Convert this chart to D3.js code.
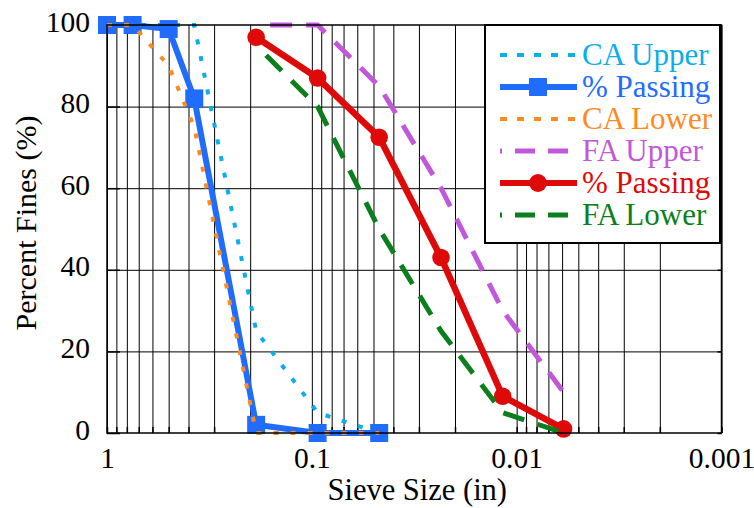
<!DOCTYPE html>
<html>
<head>
<meta charset="utf-8">
<script src="https://cdn.jsdelivr.net/npm/d3@7"></script>
<style>
  html, body { margin: 0; padding: 0; background: #fff; }
  svg text { font-family: "Liberation Serif", "Times New Roman", Times, serif; }
</style>
</head>
<body>
<svg id="chart"></svg>
<script>
// sieve openings (in)
const caSieves = [1, 0.75, 0.5, 0.375, 0.187, 0.0937, 0.0469];
const faSieves = [0.187, 0.0937, 0.0469, 0.0234, 0.0117, 0.0059];

// coarse aggregate, % passing
const caUpper = [100, 100, 100, 100, 25, 5, 0];
const caPassing = [100, 100, 99, 82, 2, 0, 0];
const caLower = [100, 100, 90, 75, 0, 0, 0];

// fine aggregate, % passing
const faUpper = [100, 100, 85, 60, 30, 10];
const faPassing = [97, 87, 72.5, 43, 9, 1];
const faLower = [95, 80, 50, 25, 5, 0];

const xTickValues = [1, 0.1, 0.01, 0.001];
const yTickValues = [0, 20, 40, 60, 80, 100];

const margin = { top: 25, right: 32.5, bottom: 75, left: 107 };
const width = 754 - margin.left - margin.right;
const height = 508 - margin.top - margin.bottom;

const svg = d3.select('#chart')
  .attr('width', 754)
  .attr('height', 508);

const g = svg.append('g')
  .attr('transform', `translate(${margin.left},${margin.top})`);

const x = d3.scaleLog()
  .domain([1, 0.001])
  .range([0, width]);

const y = d3.scaleLinear()
  .domain([0, 100])
  .range([height, 0]);

// grid
g.append('g')
  .attr('transform', `translate(0,${height})`)
  .call(d3.axisBottom(x).tickValues(x.ticks()).tickSize(-height).tickFormat(''))
  .call(a => a.select('.domain').remove())
  .call(a => a.selectAll('.tick line').attr('stroke', '#000').attr('stroke-width', 1));

g.append('g')
  .call(d3.axisLeft(y).tickValues([20, 40, 60, 80]).tickSize(-width).tickFormat(''))
  .call(a => a.select('.domain').remove())
  .call(a => a.selectAll('.tick line').attr('stroke', '#000').attr('stroke-width', 1));

// tick labels
g.append('g')
  .attr('transform', `translate(0,${height})`)
  .call(d3.axisBottom(x).tickValues(xTickValues).tickSize(0).tickPadding(0).tickFormat(d3.format('~g')))
  .call(a => a.select('.domain').remove())
  .call(a => a.selectAll('.tick text')
    .attr('font-size', 29.5)
    .attr('fill', '#000')
    .attr('dy', null)
    .attr('y', 35));

g.append('g')
  .call(d3.axisLeft(y).tickValues(yTickValues).tickSize(13).tickPadding(0).tickFormat(d3.format('d')))
  .call(a => a.select('.domain').remove())
  .call(a => a.selectAll('.tick line').attr('x2', 13).attr('stroke', '#000').attr('stroke-width', 1.5))
  .call(a => a.selectAll('.tick text')
    .attr('font-size', 29.5)
    .attr('fill', '#000')
    .attr('x', -17)
    .attr('dy', 6));

// small ticks on the right edge
g.append('g')
  .attr('transform', `translate(${width},0)`)
  .call(d3.axisRight(y).tickValues(yTickValues).tickSize(-4).tickFormat(''))
  .call(a => a.select('.domain').remove())
  .call(a => a.selectAll('.tick line').attr('stroke', '#000').attr('stroke-width', 1.5));

// small ticks along the bottom
g.append('g')
  .attr('transform', `translate(0,${height})`)
  .call(d3.axisBottom(x).tickValues(x.ticks()).tickSize(-6).tickFormat(''))
  .call(a => a.select('.domain').remove())
  .call(a => a.selectAll('.tick line').attr('stroke', '#000').attr('stroke-width', 1.5));

// axis titles
svg.append('text')
  .attr('x', margin.left + width / 2 + 3)
  .attr('y', 500)
  .attr('text-anchor', 'middle')
  .attr('font-size', 30.5)
  .text('Sieve Size (in)');

svg.append('text')
  .attr('transform', `translate(36,${margin.top + height / 2 - 6}) rotate(-90)`)
  .attr('text-anchor', 'middle')
  .attr('font-size', 30)
  .text('Percent Fines (%)');

const series = [
  { name: 'CA Upper', sieves: caSieves, values: caUpper, color: '#0aaee8', width: 4, dash: '5,12', offset: 0 },
  { name: '% Passing', sieves: caSieves, values: caPassing, color: '#1f6cff', width: 6, dash: null, marker: 'square' },
  { name: 'CA Lower', sieves: caSieves, values: caLower, color: '#ff8a1e', width: 4, dash: '5,12', offset: 0 },
  { name: 'FA Upper', sieves: faSieves, values: faUpper, color: '#c158dc', width: 5, dash: '22,14', offset: 22 },
  { name: '% Passing', sieves: faSieves, values: faPassing, color: '#de0a0a', width: 6.5, dash: null, marker: 'circle' },
  { name: 'FA Lower', sieves: faSieves, values: faLower, color: '#0b7f1b', width: 5, dash: '22,14', offset: 22 }
];

const line = d3.line()
  .x(d => x(d[0]))
  .y(d => y(d[1]));

series.forEach(s => {
  const pts = s.sieves.map((v, i) => [v, s.values[i]]);
  g.append('path')
    .datum(pts)
    .attr('fill', 'none')
    .attr('stroke', s.color)
    .attr('stroke-width', s.width)
    .attr('stroke-dasharray', s.dash)
    .attr('stroke-dashoffset', s.offset || 0)
    .attr('d', line);

  if (s.marker === 'square') {
    g.selectAll(null)
      .data(pts)
      .enter().append('rect')
      .attr('x', d => x(d[0]) - 9)
      .attr('y', d => y(d[1]) - 9)
      .attr('width', 18)
      .attr('height', 18)
      .attr('fill', s.color);
  } else if (s.marker === 'circle') {
    g.selectAll(null)
      .data(pts)
      .enter().append('circle')
      .attr('cx', d => x(d[0]))
      .attr('cy', d => y(d[1]))
      .attr('r', 8.8)
      .attr('fill', s.color);
  }
});

// frame
g.append('rect')
  .attr('width', width)
  .attr('height', height)
  .attr('fill', 'none')
  .attr('stroke', '#000')
  .attr('stroke-width', 1.5);

// legend
const legend = svg.append('g').attr('transform', 'translate(485,25)');
legend.append('rect')
  .attr('width', 235)
  .attr('height', 218)
  .attr('fill', '#fff')
  .attr('stroke', '#000')
  .attr('stroke-width', 2);

const rows = legend.selectAll('g.row')
  .data(series)
  .enter().append('g')
  .attr('class', 'row')
  .attr('transform', (d, i) => `translate(0,${30 + i * 32})`);

rows.append('line')
  .attr('x1', 15)
  .attr('x2', 92)
  .attr('stroke', d => d.color)
  .attr('stroke-width', d => d.dash ? d.width : 6)
  .attr('stroke-dasharray', d => d.dash ? (d.width === 4 ? '7,10' : '20,13') : null)
  .attr('stroke-dashoffset', d => d.dash && d.width !== 4 ? 18 : 0);

rows.filter(d => d.marker === 'square').append('rect')
  .attr('x', 44).attr('y', -9).attr('width', 18).attr('height', 18)
  .attr('fill', d => d.color);

rows.filter(d => d.marker === 'circle').append('circle')
  .attr('cx', 53).attr('r', 9)
  .attr('fill', d => d.color);

rows.append('text')
  .attr('x', 97)
  .attr('y', 10)
  .attr('font-size', 31)
  .attr('fill', d => d.color)
  .text(d => d.name);
</script>
</body>
</html>
